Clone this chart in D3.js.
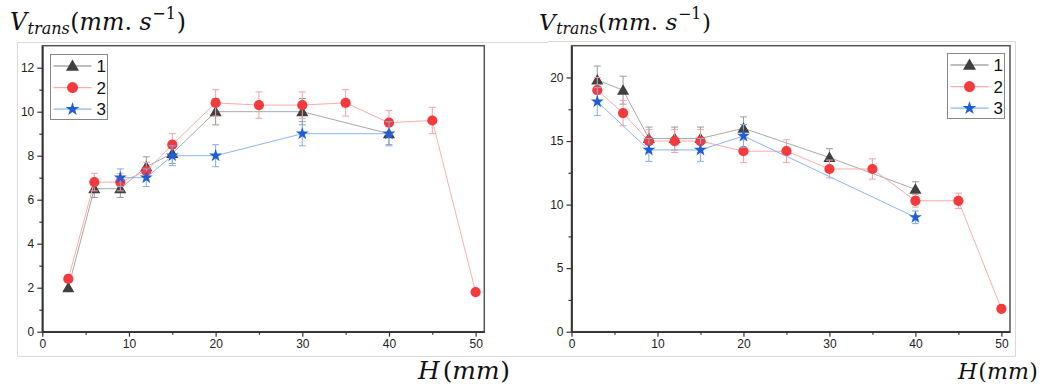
<!DOCTYPE html>
<html><head><meta charset="utf-8">
<script src="https://cdn.jsdelivr.net/npm/d3@7"></script>
<style>html,body{margin:0;padding:0;background:#fff;}svg{display:block;}</style>
</head><body>
<svg id="chart" width="1046" height="385"></svg>
<script>
// ---------- data ----------
const seriesNames = ["1", "2", "3"];
const xTicks = [0, 10, 20, 30, 40, 50];
const leftYTicks = [0, 2, 4, 6, 8, 10, 12];
const rightYTicks = [0, 5, 10, 15, 20];

// left panel
const leftH1 = [3, 6, 9, 12, 15, 20, 30, 40];
const leftV1 = [2.0, 6.5, 6.5, 7.5, 8.1, 10.0, 10.0, 9.0];
const leftE1 = [0, 0.4, 0.4, 0.45, 0.45, 0.6, 0.6, 0.5];
const leftH2 = [3, 6, 9, 12, 15, 20, 25, 30, 35, 40, 45, 50];
const leftV2 = [2.4, 6.8, 6.8, 7.3, 8.5, 10.4, 10.3, 10.3, 10.4, 9.5, 9.6, 1.8];
const leftE2 = [0, 0.4, 0.4, 0.4, 0.5, 0.6, 0.6, 0.6, 0.6, 0.55, 0.6, 0];
const leftH3 = [9, 12, 15, 20, 30, 40];
const leftV3 = [7.0, 7.0, 8.0, 8.0, 9.0, 9.0];
const leftE3 = [0.4, 0.4, 0.45, 0.5, 0.55, 0.55];

// right panel
const rightH1 = [3, 6, 9, 12, 15, 20, 30, 40];
const rightV1 = [19.8, 19.0, 15.2, 15.2, 15.2, 16.0, 13.7, 11.2];
const rightE1 = [1.1, 1.1, 0.9, 0.9, 0.9, 0.9, 0.7, 0.6];
const rightH2 = [3, 6, 9, 12, 15, 20, 25, 30, 35, 40, 45, 50];
const rightV2 = [19.0, 17.2, 15.0, 15.0, 15.0, 14.2, 14.2, 12.8, 12.8, 10.3, 10.3, 1.8];
const rightE2 = [1.0, 1.0, 0.9, 0.9, 0.9, 0.9, 0.9, 0.7, 0.8, 0.5, 0.6, 0];
const rightH3 = [3, 9, 15, 20, 40];
const rightV3 = [18.1, 14.3, 14.3, 15.4, 9.0];
const rightE3 = [1.1, 0.9, 0.9, 0.9, 0.5];

// ---------- styles ----------
const styles = [
  {line: "#a8a8a8", err: "#9a9a9a", fill: "#404040", sym: d3.symbolTriangle, size: 64},
  {line: "#ffaaaa", err: "#f7a0a0", fill: "#f43a3c", sym: d3.symbolCircle, size: 82},
  {line: "#8cb4f0", err: "#82acee", fill: "#1e5fd8", sym: d3.symbolStar, size: 52}
];

const svg = d3.select("#chart");

// light outer frames (screenshot borders)
const frame = svg.append("g").attr("stroke", "#d9d9d9").attr("stroke-width", 1).attr("fill", "none");
frame.append("path").attr("d", "M17.5,356.5 L17.5,42.5 L548,42.5");
frame.append("path").attr("d", "M548,41.5 L1015.5,41.5 L1015.5,356.5 L17.5,356.5");

function zip(h, v, e) { return h.map((d, i) => ({h: d, v: v[i], e: e[i]})); }

function panel(cfg) {
  const x = d3.scaleLinear().domain([0, 51]).range(cfg.xr);
  const y = d3.scaleLinear().domain(cfg.yd).range([331.7, 45.7]);
  const g = svg.append("g");

  g.append("rect").attr("x", cfg.xr[0]).attr("y", 45.7)
    .attr("width", cfg.xr[1] - cfg.xr[0]).attr("height", 331.7 - 45.7)
    .attr("fill", "none").attr("stroke", "#555").attr("stroke-width", 1.5);

  g.append("g").attr("transform", `translate(0,331.7)`)
    .call(d3.axisBottom(x).tickValues(xTicks).tickSize(5).tickSizeOuter(0).tickPadding(3));
  g.append("g").attr("transform", `translate(0,331.7)`)
    .call(d3.axisBottom(x).tickValues(cfg.xMinor).tickSize(3).tickSizeOuter(0).tickFormat(""))
    .select(".domain").remove();
  g.append("g").attr("transform", `translate(${cfg.xr[0]},0)`)
    .call(d3.axisLeft(y).tickValues(cfg.yTicks).tickSize(5).tickSizeOuter(0).tickPadding(3));
  g.append("g").attr("transform", `translate(${cfg.xr[0]},0)`)
    .call(d3.axisLeft(y).tickValues(cfg.yMinor).tickSize(3).tickSizeOuter(0).tickFormat(""))
    .select(".domain").remove();
  g.selectAll(".domain").attr("stroke", "#333").attr("stroke-width", 1.8);
  g.selectAll(".tick line").attr("stroke", "#333").attr("stroke-width", 1.2);
  g.selectAll(".tick text").attr("font-family", "Liberation Sans, Arial, sans-serif")
    .attr("font-size", 12).attr("fill", "#222");

  const line = d3.line().x(d => x(d.h)).y(d => y(d.v));
  cfg.series.forEach((s, i) => {
    const st = styles[i];
    const sg = g.append("g");
    sg.append("path").datum(s).attr("d", line).attr("fill", "none")
      .attr("stroke", st.line).attr("stroke-width", 1);
    const eb = sg.selectAll(".eb").data(s.filter(d => d.e > 0)).join("g")
      .attr("stroke", st.err).attr("stroke-width", 1);
    eb.append("line").attr("x1", d => x(d.h)).attr("x2", d => x(d.h))
      .attr("y1", d => y(d.v - d.e)).attr("y2", d => y(d.v + d.e));
    eb.append("line").attr("x1", d => x(d.h) - 3.5).attr("x2", d => x(d.h) + 3.5)
      .attr("y1", d => y(d.v + d.e)).attr("y2", d => y(d.v + d.e));
    eb.append("line").attr("x1", d => x(d.h) - 3.5).attr("x2", d => x(d.h) + 3.5)
      .attr("y1", d => y(d.v - d.e)).attr("y2", d => y(d.v - d.e));
    sg.selectAll(".m").data(s).join("path")
      .attr("transform", d => `translate(${x(d.h)},${y(d.v) + (i === 0 ? 1 : 0)})`)
      .attr("d", d3.symbol().type(st.sym).size(st.size)).attr("fill", st.fill);
  });

  const L = cfg.legend;
  const lg = g.append("g");
  lg.append("rect").attr("x", L.x).attr("y", L.y).attr("width", L.w).attr("height", L.h)
    .attr("fill", "#fff").attr("stroke", "#888").attr("stroke-width", 1);
  seriesNames.forEach((n, i) => {
    const st = styles[i];
    const yy = L.y + 11.5 + i * 21.6;
    lg.append("line").attr("x1", L.x + 3).attr("x2", L.x + 41).attr("y1", yy).attr("y2", yy)
      .attr("stroke", st.line).attr("stroke-width", 1.3);
    lg.append("path").attr("transform", `translate(${L.x + 22},${yy + (i === 0 ? 1 : 0)})`)
      .attr("d", d3.symbol().type(st.sym).size(st.size * 1.15)).attr("fill", st.fill);
    lg.append("text").attr("x", L.x + 46).attr("y", yy + 6).text(n)
      .attr("font-family", "Liberation Sans, Arial, sans-serif").attr("font-size", 17).attr("fill", "#111");
  });

  flowText(cfg.titleX, 29.5, cfg.titleW, titleParts);
  flowText(cfg.hX, 379, cfg.hW, cfg.hParts);
}

// naturally flowing tspans in one <text>, sized to a target width
// part: [text, relative size, italic, dy (em of base), dx (em of base)]
const titleParts = [
  ["V", 1, true, 0, 0],
  ["trans", 0.68, true, 0.21, 0.02],
  ["(", 1, false, -0.21, 0.02],
  ["mm", 1, true, 0, 0],
  [".", 1, false, 0, 0],
  ["\u00A0s", 1, true, 0, 0],
  ["\u22121", 0.68, false, -0.46, 0.03],
  [")", 1, false, 0.46, 0.03]
];
const hPartsTight = [
  ["H", 1, true, 0, 0], ["(", 1, false, 0, 0.05], ["mm", 1, true, 0, 0], [")", 1, false, 0, 0.02]
];
const hPartsWide = [
  ["H", 1, true, 0, 0], ["(", 1, false, 0, 0.12], ["mm", 1, true, 0, 0], [")", 1, false, 0, 0.03]
];
function flowText(x0, y0, targetW, parts) {
  const base = 24;
  const t = svg.append("text").attr("x", x0).attr("y", y0)
    .attr("font-family", "DejaVu Serif, serif").attr("fill", "#111");
  const spans = parts.map(p => t.append("tspan").text(p[0])
    .attr("font-style", p[2] ? "italic" : "normal"));
  function apply(b) {
    spans.forEach((s, i) => {
      const p = parts[i];
      s.attr("font-size", b * p[1]).attr("dy", b * p[3]).attr("dx", b * p[4]);
    });
  }
  apply(base);
  const w = t.node().getComputedTextLength() + d3.sum(parts, p => p[4]) * base;
  apply(base * targetW / w);
}

panel({
  xr: [42.3, 484.3], yd: [0, 13], yTicks: leftYTicks, yMinor: [1, 3, 5, 7, 9, 11],
  xMinor: [5, 15, 25, 35, 45],
  series: [zip(leftH1, leftV1, leftE1), zip(leftH2, leftV2, leftE2), zip(leftH3, leftV3, leftE3)],
  legend: {x: 50.5, y: 54.5, w: 57, h: 65},
  titleX: 10, titleW: 176, hX: 418, hW: 92, hParts: hPartsWide
});
panel({
  xr: [571.5, 1010], yd: [0, 22.5], yTicks: rightYTicks, yMinor: [2.5, 7.5, 12.5, 17.5],
  xMinor: [5, 15, 25, 35, 45],
  series: [zip(rightH1, rightV1, rightE1), zip(rightH2, rightV2, rightE2), zip(rightH3, rightV3, rightE3)],
  legend: {x: 947.5, y: 53.5, w: 57, h: 65},
  titleX: 539, titleW: 172, hX: 958, hW: 80, hParts: hPartsTight
});
</script>
</body></html>
